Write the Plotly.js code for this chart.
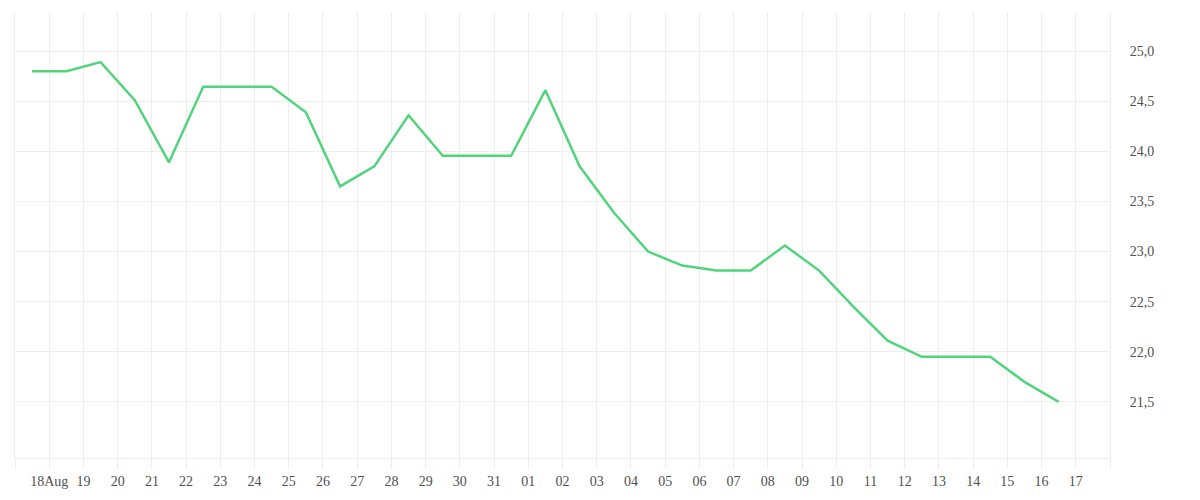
<!DOCTYPE html>
<html>
<head>
<meta charset="utf-8">
<script src="https://cdn.plot.ly/plotly-3.0.1.min.js"></script>
<style>html,body{margin:0;padding:0;background:#fff;}#chart{width:1200px;height:500px;}</style>
</head>
<body>
<div id="chart"></div>
<script>
// Data points (mid-day)
var dates = [
  "2023-08-17 12:00","2023-08-18 12:00","2023-08-19 12:00","2023-08-20 12:00","2023-08-21 12:00",
  "2023-08-22 12:00","2023-08-23 12:00","2023-08-24 12:00","2023-08-25 12:00","2023-08-26 12:00",
  "2023-08-27 12:00","2023-08-28 12:00","2023-08-29 12:00","2023-08-30 12:00","2023-08-31 12:00",
  "2023-09-01 12:00","2023-09-02 12:00","2023-09-03 12:00","2023-09-04 12:00","2023-09-05 12:00",
  "2023-09-06 12:00","2023-09-07 12:00","2023-09-08 12:00","2023-09-09 12:00","2023-09-10 12:00",
  "2023-09-11 12:00","2023-09-12 12:00","2023-09-13 12:00","2023-09-14 12:00","2023-09-15 12:00",
  "2023-09-16 12:00"
];
var values = [
  24.80, 24.80, 24.89, 24.51, 23.89,
  24.645, 24.645, 24.645, 24.39, 23.65,
  23.85, 24.36, 23.955, 23.955, 23.955,
  24.61, 23.85, 23.39, 23.00, 22.86,
  22.81, 22.81, 23.06, 22.81, 22.45,
  22.11, 21.95, 21.95, 21.95, 21.70,
  21.50
];
// X ticks (day boundaries) and labels
var tickDates = [
  "2023-08-17","2023-08-18","2023-08-19","2023-08-20","2023-08-21","2023-08-22","2023-08-23",
  "2023-08-24","2023-08-25","2023-08-26","2023-08-27","2023-08-28","2023-08-29","2023-08-30",
  "2023-08-31","2023-09-01","2023-09-02","2023-09-03","2023-09-04","2023-09-05","2023-09-06",
  "2023-09-07","2023-09-08","2023-09-09","2023-09-10","2023-09-11","2023-09-12","2023-09-13",
  "2023-09-14","2023-09-15","2023-09-16","2023-09-17","2023-09-18"
];
var tickLabels = [
  "","18Aug","19","20","21","22","23","24","25","26","27","28","29","30","31",
  "01","02","03","04","05","06","07","08","09","10","11","12","13","14","15","16","17",""
];
var yTicks = [21.5, 22.0, 22.5, 23.0, 23.5, 24.0, 24.5, 25.0];

var trace = {
  x: dates, y: values, type: 'scatter', mode: 'lines',
  line: {color: '#52d47d', width: 2.5},
  hoverinfo: 'x+y'
};
var grid = '#eeeeee';
var layout = {
  width: 1200, height: 500,
  margin: {l: 15, r: 90, t: 12, b: 42},
  paper_bgcolor: '#ffffff', plot_bgcolor: '#ffffff',
  separators: ',.',
  showlegend: false,
  font: {family: '"Liberation Serif", "DejaVu Serif", serif', size: 14, color: '#505050'},
  xaxis: {
    type: 'date',
    range: ['2023-08-17', '2023-09-18'],
    tickmode: 'array', tickvals: tickDates, ticktext: tickLabels,
    showgrid: true, gridcolor: grid, gridwidth: 1,
    ticks: 'outside', ticklen: 10, tickcolor: grid, tickwidth: 1,
    showline: true, linecolor: grid, linewidth: 1,
    zeroline: false, fixedrange: true,
    tickfont: {size: 14, color: '#505050'}
  },
  yaxis: {
    side: 'right',
    range: [20.94, 25.39],
    tickmode: 'array', tickvals: yTicks, tickformat: '.1f',
    showgrid: true, gridcolor: grid, gridwidth: 1,
    ticks: 'outside', ticklen: 16, tickcolor: 'rgba(0,0,0,0)',
    showline: true, mirror: true, linecolor: grid, linewidth: 1,
    zeroline: false, fixedrange: true,
    tickfont: {size: 14, color: '#505050'}
  }
};
Plotly.newPlot('chart', [trace], layout, {displayModeBar: false, staticPlot: true});
</script>
</body>
</html>
